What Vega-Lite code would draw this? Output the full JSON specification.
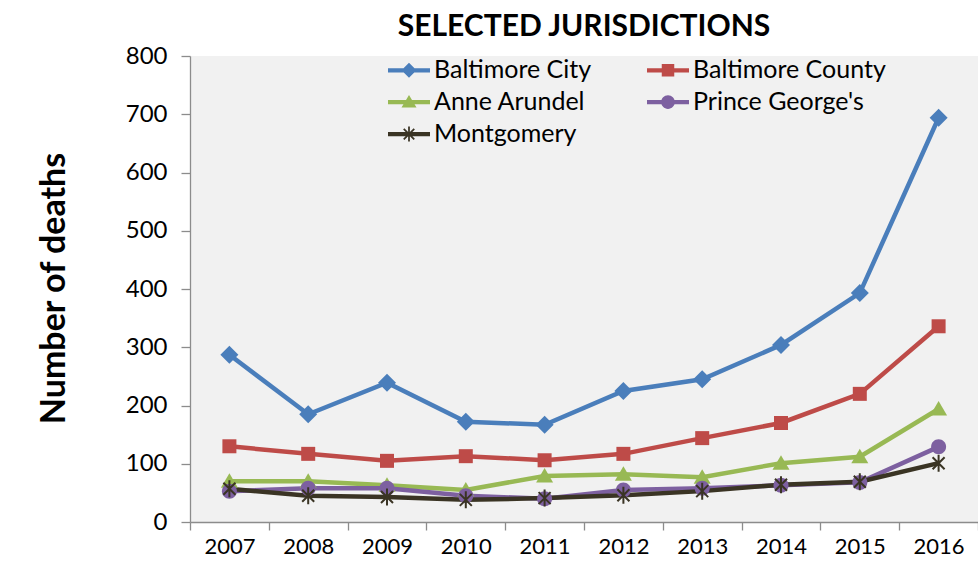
{
  "$schema": "https://vega.github.io/schema/vega-lite/v6.json",
  "autosize": "none",
  "width": 788,
  "height": 466,
  "padding": {"left": 190, "top": 56, "right": 0, "bottom": 47},
  "background": "white",
  "title": {
    "text": "SELECTED JURISDICTIONS",
    "font": "Lato",
    "fontSize": 30,
    "fontWeight": "bold",
    "color": "black",
    "anchor": "middle",
    "offset": 2
  },
  "config": {
    "view": {"fill": "#f1f1f1", "stroke": null},
    "font": "Lato"
  },
  "data": {
    "values": [
      {"year": "2007", "series": "Baltimore City", "deaths": 287},
      {"year": "2008", "series": "Baltimore City", "deaths": 185},
      {"year": "2009", "series": "Baltimore City", "deaths": 239},
      {"year": "2010", "series": "Baltimore City", "deaths": 172},
      {"year": "2011", "series": "Baltimore City", "deaths": 167},
      {"year": "2012", "series": "Baltimore City", "deaths": 225},
      {"year": "2013", "series": "Baltimore City", "deaths": 245},
      {"year": "2014", "series": "Baltimore City", "deaths": 304},
      {"year": "2015", "series": "Baltimore City", "deaths": 393},
      {"year": "2016", "series": "Baltimore City", "deaths": 694},
      {"year": "2007", "series": "Baltimore County", "deaths": 130},
      {"year": "2008", "series": "Baltimore County", "deaths": 117},
      {"year": "2009", "series": "Baltimore County", "deaths": 105},
      {"year": "2010", "series": "Baltimore County", "deaths": 113},
      {"year": "2011", "series": "Baltimore County", "deaths": 106},
      {"year": "2012", "series": "Baltimore County", "deaths": 117},
      {"year": "2013", "series": "Baltimore County", "deaths": 144},
      {"year": "2014", "series": "Baltimore County", "deaths": 170},
      {"year": "2015", "series": "Baltimore County", "deaths": 220},
      {"year": "2016", "series": "Baltimore County", "deaths": 336},
      {"year": "2007", "series": "Anne Arundel", "deaths": 70},
      {"year": "2008", "series": "Anne Arundel", "deaths": 70},
      {"year": "2009", "series": "Anne Arundel", "deaths": 63},
      {"year": "2010", "series": "Anne Arundel", "deaths": 55},
      {"year": "2011", "series": "Anne Arundel", "deaths": 79},
      {"year": "2012", "series": "Anne Arundel", "deaths": 82},
      {"year": "2013", "series": "Anne Arundel", "deaths": 77},
      {"year": "2014", "series": "Anne Arundel", "deaths": 101},
      {"year": "2015", "series": "Anne Arundel", "deaths": 112},
      {"year": "2016", "series": "Anne Arundel", "deaths": 194},
      {"year": "2007", "series": "Prince George's", "deaths": 53},
      {"year": "2008", "series": "Prince George's", "deaths": 58},
      {"year": "2009", "series": "Prince George's", "deaths": 58},
      {"year": "2010", "series": "Prince George's", "deaths": 45},
      {"year": "2011", "series": "Prince George's", "deaths": 40},
      {"year": "2012", "series": "Prince George's", "deaths": 55},
      {"year": "2013", "series": "Prince George's", "deaths": 58},
      {"year": "2014", "series": "Prince George's", "deaths": 63},
      {"year": "2015", "series": "Prince George's", "deaths": 68},
      {"year": "2016", "series": "Prince George's", "deaths": 129},
      {"year": "2007", "series": "Montgomery", "deaths": 57},
      {"year": "2008", "series": "Montgomery", "deaths": 45},
      {"year": "2009", "series": "Montgomery", "deaths": 43},
      {"year": "2010", "series": "Montgomery", "deaths": 38},
      {"year": "2011", "series": "Montgomery", "deaths": 41},
      {"year": "2012", "series": "Montgomery", "deaths": 46},
      {"year": "2013", "series": "Montgomery", "deaths": 53},
      {"year": "2014", "series": "Montgomery", "deaths": 64},
      {"year": "2015", "series": "Montgomery", "deaths": 69},
      {"year": "2016", "series": "Montgomery", "deaths": 101}
    ]
  },
  "encoding": {
    "x": {
      "field": "year",
      "type": "ordinal",
      "scale": {"paddingInner": 0, "paddingOuter": 0},
      "axis": {
        "title": null,
        "labelAngle": 0,
        "labelFontSize": 22,
        "labelColor": "black",
        "labelPadding": 6,
        "tickBand": "extent",
        "tickSize": 8,
        "tickColor": "#8c8c8c",
        "domainColor": "#8c8c8c",
        "domainWidth": 1.3,
        "tickWidth": 1.3
      }
    },
    "y": {
      "field": "deaths",
      "type": "quantitative",
      "scale": {"domain": [0, 800], "nice": false},
      "axis": {
        "title": "Number of deaths",
        "titleFontSize": 34,
        "titleFontWeight": "bold",
        "titleColor": "black",
        "titleAngle": 270,
        "titleX": -136,
        "titleY": 232,
        "titleAlign": "center",
        "titleBaseline": "middle",
        "values": [0, 100, 200, 300, 400, 500, 600, 700, 800],
        "labelFontSize": 24,
        "labelColor": "black",
        "labelPadding": 14,
        "tickSize": 9,
        "tickColor": "#8c8c8c",
        "domainColor": "#8c8c8c",
        "domainWidth": 1.3,
        "tickWidth": 1.3,
        "grid": false
      }
    },
    "color": {
      "field": "series",
      "type": "nominal",
      "scale": {
        "domain": ["Baltimore City", "Baltimore County", "Anne Arundel", "Prince George's", "Montgomery"],
        "range": ["#4a7ebb", "#be4b48", "#98b954", "#7d60a0", "#3a3424"]
      },
      "legend": {
        "title": null,
        "orient": "none",
        "direction": "horizontal",
        "legendX": 206.5,
        "legendY": 1.5,
        "columns": 2,
        "columnPadding": 55,
        "rowPadding": 6,
        "labelFontSize": 25,
        "labelLimit": 400,
        "labelColor": "black",
        "labelOffset": 12.5,
        "symbolSize": 625,
        "symbolOpacity": 1,
        "symbolStrokeWidth": 0,
        "encode": {
          "symbols": {
            "update": {
              "fill": {"scale": "color", "field": "value"},
              "shape": {
                "signal": "datum.index === 0 ? 'M-1.68,-0.17H1.68V0.17H-1.68ZM0,-0.6L0.6,0L0,0.6L-0.6,0Z' : datum.index === 1 ? 'M-1.68,-0.17H1.68V0.17H-1.68ZM-0.5,-0.5H0.5V0.5H-0.5Z' : datum.index === 2 ? 'M-1.68,-0.17H1.68V0.17H-1.68ZM0,-0.56L0.6,0.44L-0.6,0.44Z' : datum.index === 3 ? 'M-1.68,-0.17H1.68V0.17H-1.68ZM-0.55,0A0.55,0.55 0 1,1 0.55,0A0.55,0.55 0 1,1 -0.55,0Z' : 'M-1.68,-0.17H1.68V0.17H-1.68ZM-0.07,-0.6H0.07V0.6H-0.07ZM-0.37,-0.47L0.47,0.37L0.37,0.47L-0.47,-0.37ZM0.47,-0.37L-0.37,0.47L-0.47,0.37L0.37,-0.47Z'"
              }
            }
          }
        }
      }
    }
  },
  "layer": [
    {
      "mark": {"type": "line", "strokeWidth": 4.5}
    },
    {
      "transform": [{"filter": {"field": "series", "equal": "Baltimore City"}}],
      "mark": {"type": "point", "filled": true, "opacity": 1, "size": 400, "strokeWidth": 0, "shape": "M0,-0.9L0.9,0L0,0.9L-0.9,0Z"}
    },
    {
      "transform": [{"filter": {"field": "series", "equal": "Baltimore County"}}],
      "mark": {"type": "point", "filled": true, "opacity": 1, "size": 400, "strokeWidth": 0, "shape": "M-0.7,-0.7H0.7V0.7H-0.7Z"}
    },
    {
      "transform": [{"filter": {"field": "series", "equal": "Anne Arundel"}}],
      "mark": {"type": "point", "filled": true, "opacity": 1, "size": 400, "strokeWidth": 0, "shape": "M0,-0.8L0.85,0.65L-0.85,0.65Z"}
    },
    {
      "transform": [{"filter": {"field": "series", "equal": "Prince George's"}}],
      "mark": {"type": "point", "filled": true, "opacity": 1, "size": 400, "strokeWidth": 0, "shape": "M-0.75,0A0.75,0.75 0 1,1 0.75,0A0.75,0.75 0 1,1 -0.75,0Z"}
    },
    {
      "transform": [{"filter": {"field": "series", "equal": "Montgomery"}}],
      "mark": {"type": "point", "filled": true, "opacity": 1, "size": 400, "strokeWidth": 0, "shape": "M-0.1,-0.85H0.1V0.85H-0.1ZM-0.529,-0.671L0.671,0.529L0.529,0.671L-0.671,-0.529ZM0.671,-0.529L-0.529,0.671L-0.671,0.529L0.529,-0.671Z"}
    }
  ]
}
